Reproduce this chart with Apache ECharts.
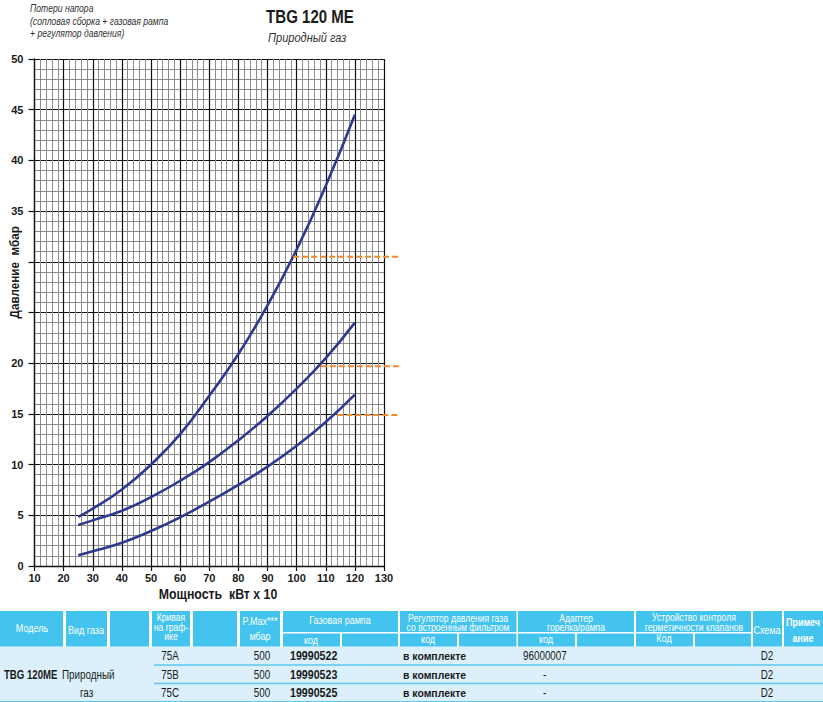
<!DOCTYPE html>
<html><head><meta charset="utf-8">
<script src="https://cdn.jsdelivr.net/npm/echarts@6/dist/echarts.min.js"></script>
<style>html,body{margin:0;padding:0;background:#fff}#c{width:823px;height:702px}</style>
</head><body><div id="c"></div>
<script>
// ---- data ----
const powerX = [25, 30, 40, 50, 60, 70, 80, 90, 100, 110, 120];
const curve75A = [4.85, 5.65, 7.55, 10.0, 13.0, 16.8, 20.9, 25.7, 31.2, 37.5, 44.5];
const curve75B = [4.05, 4.5, 5.45, 6.8, 8.4, 10.25, 12.4, 14.8, 17.5, 20.5, 24.0];
const curve75C = [1.05, 1.45, 2.3, 3.45, 4.8, 6.35, 8.0, 9.8, 11.85, 14.2, 16.9];
const refLevelY = [30.5, 19.7, 14.9];
const refStartX = [98.8, 108.3, 114.0];
const refEndX = 135.5;
const xTicks = [10, 20, 30, 40, 50, 60, 70, 80, 90, 100, 110, 120, 130];
const yTicks = [0, 5, 10, 15, 20, 25, 30, 35, 40, 45, 50];
const yHiddenLabels = [25, 30];
// table values
const tblModel = 'TBG 120ME';
const tblGas = ['Природный', 'газ'];
const tblCurve = ['75A', '75B', '75C'];
const tblPMax = ['500', '500', '500'];
const tblRamp = ['19990522', '19990523', '19990525'];
const tblRegulator = ['в комплекте', 'в комплекте', 'в комплекте'];
const tblAdapter = ['96000007', '-', '-'];
const tblScheme = ['D2', 'D2', 'D2'];

const SANS = "'Liberation Sans',Arial,sans-serif";
const blue = '#2f3990';
const orange = '#ef8a2f';
const hdr = '#42c4ef';
const NX = 0.82; // horizontal squeeze to imitate a narrow face

const chart = echarts.init(document.getElementById('c'), null, {renderer: 'svg'});

function pairs(xs, ys) { return xs.map((x, i) => [x, ys[i]]); }

const series = [
  {name: '75A', data: pairs(powerX, curve75A)},
  {name: '75B', data: pairs(powerX, curve75B)},
  {name: '75C', data: pairs(powerX, curve75C)}
].map(s => ({
  type: 'line', name: s.name, data: s.data, smooth: 0.5, symbol: 'none',
  lineStyle: {color: blue, width: 2.6}, z: 5
}));
refLevelY.forEach((y, i) => {
  series.push({
    type: 'line', xAxisIndex: 1, yAxisIndex: 1, data: [[refStartX[i], y], [refEndX, y]], symbol: 'none',
    lineStyle: {color: orange, width: 2, type: [6, 3]}, z: 6
  });
});

// ---- table graphics ----
const g = [];
function rect(x, y, w, h, fill) { g.push({type: 'rect', shape: {x, y, width: w, height: h}, style: {fill}, silent: true}); }
function txt(x, y, text, opt) {
  opt = opt || {};
  g.push({type: 'text', x, y, silent: true, scaleX: opt.sx == null ? NX : opt.sx, z: opt.z || 1,
    style: {
      text, fill: opt.fill || '#1a1a1a',
      font: (opt.style || 'normal') + ' ' + (opt.weight || 'normal') + ' ' + (opt.size || 11) + 'px ' + SANS,
      textAlign: opt.align || 'left', textVerticalAlign: 'middle', lineHeight: opt.lh || 10
    }});
}
// body background
rect(0, 646.5, 823, 55, '#dcf0fb');
// header cells
const H1 = 611, HF = 35.5, HT = 21, HS = 633.5, HSH = 13;
[[0,63],[66,41],[110,39],[152,38],[193,44],[240,40],[753,29],[784,39]].forEach(c => rect(c[0], H1, c[1], HF, hdr));
[[283,115],[400,116.5],[518,116],[636,115]].forEach(c => rect(c[0], H1, c[1], HT, hdr));
[[283,57],[342,56],[400,57],[459,57.5],[518,57],[577,57],[636,57],[695,56]].forEach(c => rect(c[0], HS, c[1], HSH, hdr));
// row lines
[665, 683.5].forEach(y => rect(154, y - 0.75, 669, 1.5, '#5ec8f0'));
rect(0, 701, 823, 1.5, '#5ec8f0');
// header texts
const W = {fill: '#ffffff', size: 11, align: 'center'};
const W2 = Object.assign({}, W, {lh: 9.5, size: 10.5});
txt(32, 628.5, 'Модель', W);
txt(86, 630, 'Вид газа', W);
txt(171, 627, 'Кривая\nна граф-\nике', W2);
txt(260, 629, 'P.Max***\nмбар', Object.assign({}, W, {lh: 15}));
txt(340, 620, 'Газовая рампа', W);
txt(311, 640, 'код', W);
txt(458, 622.5, 'Регулятор давления газа\nсо встроенным фильтром', W2);
txt(428, 639, 'код', W);
txt(576, 622.5, 'Адаптер\nгорелка/рампа', W2);
txt(546, 639, 'код', W);
txt(694, 622, 'Устройство контроля\nгерметичности клапанов', W2);
txt(664, 638, 'Код', W);
txt(767, 630, 'Схема', W);
txt(803, 630, 'Примеч\nание', Object.assign({}, W, {weight: 'bold', lh: 16}));
// body texts
const rowY = [656, 674.5, 692.5];
txt(4, 674.5, tblModel, {weight: 'bold', size: 12.5, sx: 0.77});
txt(62, 674.5, tblGas[0], {size: 12});
txt(80, 692.5, tblGas[1], {size: 12});
rowY.forEach((y, i) => {
  txt(170, y, tblCurve[i], {align: 'center', size: 12});
  txt(262, y, tblPMax[i], {align: 'center', size: 12});
  txt(290, y, tblRamp[i], {weight: 'bold', size: 13});
  txt(403, y, tblRegulator[i], {weight: 'bold', size: 11, sx: 0.95});
  if (tblAdapter[i] === '-') txt(543, y, tblAdapter[i], {size: 12});
  else txt(523, y, tblAdapter[i], {size: 12});
  txt(767, y, tblScheme[i], {align: 'center', size: 12});
});
// chart texts
const IT = {style: 'italic', size: 10.5, fill: '#333'};
txt(30, 8.5, 'Потери напора', IT);
txt(30, 21.5, '(сопловая сборка + газовая рампа', IT);
txt(30, 33.5, '+ регулятор давления)', IT);
txt(310, 16.5, 'TBG 120 ME', {weight: 'bold', size: 17.5, align: 'center', sx: 0.86});
txt(268, 37.5, 'Природный газ', {style: 'italic', size: 13, fill: '#333', sx: 0.85});
txt(218, 594.5, 'Мощность  кВт x 10', {weight: 'bold', size: 14.5, align: 'center', sx: 0.85});
g.push({type: 'text', x: 15, y: 275, rotation: Math.PI / 2, scaleX: 0.9, silent: true, z: 10,
  style: {text: 'Давление  мбар', font: 'bold 13px ' + SANS, fill: '#1a1a1a', textAlign: 'center', textVerticalAlign: 'middle',
  backgroundColor: '#fff', padding: [2, 4, 2, 10]}});

const hidden = {show: false};
chart.setOption({
  animation: false,
  backgroundColor: '#fff',
  grid: [
    {left: 34.5, right: 439, top: 59, bottom: 136, containLabel: false},
    {left: 34.5, right: 423, top: 59, bottom: 136, containLabel: false}
  ],
  xAxis: [{
    type: 'value', gridIndex: 0, min: xTicks[0], max: xTicks[xTicks.length - 1], interval: 10,
    axisLine: {show: true, onZero: false, lineStyle: {color: '#111', width: 1.3}},
    axisTick: {show: true, length: 5, lineStyle: {color: '#111', width: 1.2}},
    axisLabel: {margin: 6, color: '#1a1a1a', fontWeight: 'bold', fontSize: 11, fontFamily: SANS,
      formatter: v => xTicks.includes(v) ? String(v) : ''},
    splitLine: {show: true, lineStyle: {color: '#111', width: 1.2}},
    minorTick: {show: false, splitNumber: 5},
    minorSplitLine: {show: true, lineStyle: {color: '#8c8c8c', width: 1}}
  }, {
    type: 'value', gridIndex: 1, min: xTicks[0], max: refEndX,
    axisLine: hidden, axisTick: hidden, axisLabel: hidden, splitLine: hidden
  }],
  yAxis: [{
    type: 'value', gridIndex: 0, min: yTicks[0], max: yTicks[yTicks.length - 1], interval: 5,
    axisLine: {show: true, onZero: false, lineStyle: {color: '#111', width: 1.3}},
    axisTick: {show: true, length: 6, lineStyle: {color: '#111', width: 1.2}},
    axisLabel: {margin: 11, color: '#1a1a1a', fontWeight: 'bold', fontSize: 11, fontFamily: SANS,
      formatter: v => (yTicks.includes(v) && !yHiddenLabels.includes(v)) ? String(v) : ''},
    splitLine: {show: true, lineStyle: {color: '#111', width: 1.2}},
    minorTick: {show: false, splitNumber: 5},
    minorSplitLine: {show: true, lineStyle: {color: '#8c8c8c', width: 1}}
  }, {
    type: 'value', gridIndex: 1, min: yTicks[0], max: yTicks[yTicks.length - 1],
    axisLine: hidden, axisTick: hidden, axisLabel: hidden, splitLine: hidden
  }],
  series,
  graphic: g
});
</script></body></html>
